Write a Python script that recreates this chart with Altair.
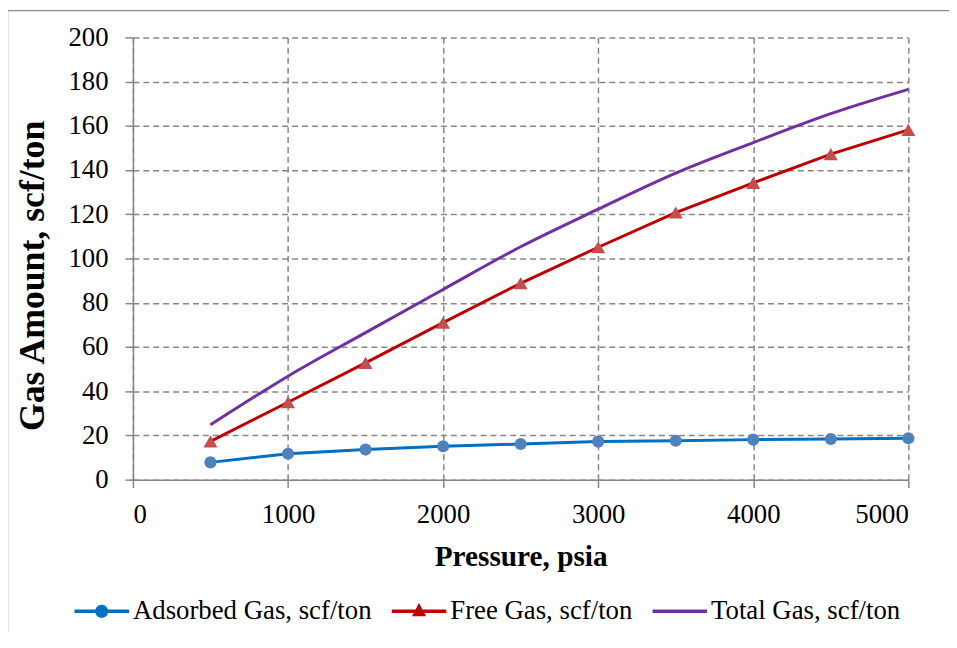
import altair as alt
import pandas as pd

pressure = [500, 1000, 1500, 2000, 2500, 3000, 3500, 4000, 4500, 5000]
adsorbed = [7.8, 11.7, 13.6, 15.1, 16.1, 17.2, 17.6, 18.1, 18.4, 18.7]
free_gas = [17.3, 35.0, 52.8, 71.0, 88.8, 105.1, 120.8, 134.2, 147.2, 158.2]
total_gas = [24.8, 46.8, 66.5, 86.0, 105.3, 122.3, 138.6, 152.4, 165.5, 176.5]

series_names = ["Adsorbed Gas, scf/ton", "Free Gas, scf/ton", "Total Gas, scf/ton"]
line_colors = ["#0070C0", "#C00000", "#7030A0"]
marker_colors = ["#4F81BD", "#C0504D"]
x_ticks = [0, 1000, 2000, 3000, 4000, 5000]
y_ticks = [0, 20, 40, 60, 80, 100, 120, 140, 160, 180, 200]

rows = []
for name, vals in zip(series_names, [adsorbed, free_gas, total_gas]):
    for p, v in zip(pressure, vals):
        rows.append({"pressure": p, "value": v, "series": name})
df = pd.DataFrame(rows)

FONT = "Liberation Serif"
W, H = 782, 446
GRID = "#868686"

common_axis = dict(
    labelColor="black", labelFont=FONT, labelFontSize=27,
    titleFont=FONT, titleFontWeight="bold", titleColor="black",
    gridColor=GRID, gridDash=[6, 4], gridWidth=1.5,
    domainColor=GRID, domainWidth=1.5,
    tickColor=GRID, tickWidth=1.5, tickSize=8,
)

x_enc = alt.X("pressure:Q", scale=alt.Scale(domain=[0, 5000], nice=False),
              axis=alt.Axis(values=x_ticks, title="Pressure, psia", format="d",
                            titleX=W / 2, titleY=87, titleBaseline="alphabetic",
                            titleFontSize=29.5, labelPadding=14, **common_axis))
y_enc = alt.Y("value:Q", scale=alt.Scale(domain=[0, 200], nice=False),
              axis=alt.Axis(values=y_ticks, title="Gas Amount, scf/ton",
                            titleX=-90, titleY=240, titleBaseline="alphabetic",
                            titleAlign="center", titleAngle=-90,
                            titleFontSize=36, labelPadding=17,
                            labelBaseline="middle", **common_axis))

color_scale = alt.Scale(domain=series_names, range=line_colors)

base = alt.Chart(df)

lines_lin = base.transform_filter(
    alt.datum.series != series_names[2]
).mark_line(strokeWidth=3).encode(
    x=x_enc, y=y_enc,
    color=alt.Color("series:N", scale=color_scale, legend=None),
    detail="series:N",
)
line_total = base.transform_filter(
    alt.datum.series == series_names[2]
).mark_line(strokeWidth=3, interpolate="monotone").encode(
    x=x_enc, y=y_enc,
    color=alt.Color("series:N", scale=color_scale, legend=None),
)
pts_ads = base.transform_filter(
    alt.datum.series == series_names[0]
).mark_point(filled=True, shape="circle", size=150, opacity=1,
             color=marker_colors[0]).encode(x=x_enc, y=y_enc)
pts_free = base.transform_filter(
    alt.datum.series == series_names[1]
).mark_point(filled=True, shape="triangle-up", size=200, opacity=1,
             color=marker_colors[1]).encode(x=x_enc, y=y_enc)

r_line = 0.064
r_c = 0.24
legend_paths = [
    f"M-1,-{r_line}H1V{r_line}H-1Z M{r_c},0 A{r_c},{r_c} 0 1,1 -{r_c},0 A{r_c},{r_c} 0 1,1 {r_c},0 Z",
    f"M-1,-{r_line}H1V{r_line}H-1Z M0,-0.3 L0.26,0.18 L-0.26,0.18 Z",
    f"M-1,-{r_line}H1V{r_line}H-1Z",
]

legend_spec = alt.Legend(orient="none", direction="horizontal",
                         legendX=-59, legendY=551, title=None,
                         symbolSize=3025, symbolOpacity=1,
                         symbolStrokeWidth=0,
                         labelFont=FONT, labelFontSize=27, labelLimit=500,
                         labelColor="black", labelOffset=4,
                         columnPadding=20)

legend_layer = alt.Chart(pd.DataFrame({"series": series_names})).mark_point(
    filled=True, opacity=0
).encode(
    color=alt.Color("series:N", scale=alt.Scale(domain=series_names, range=line_colors),
                    legend=legend_spec),
    shape=alt.Shape("series:N", scale=alt.Scale(domain=series_names, range=legend_paths),
                    legend=legend_spec),
)

border = alt.Chart(pd.DataFrame({"k": [0]})).mark_rule(color="#8c8c8c", strokeWidth=1.5).encode(
    x=alt.value(-126.5), y=alt.value(-28), y2=alt.value(640)
) + alt.Chart(pd.DataFrame({"k": [0]})).mark_rule(color="#8c8c8c", strokeWidth=1.5).encode(
    x=alt.value(-126.5), x2=alt.value(840), y=alt.value(-27)
)

chart = alt.layer(
    border, line_total, lines_lin, pts_ads, pts_free, legend_layer
).resolve_scale(
    color="independent", shape="independent"
).resolve_legend(
    color="independent", shape="independent"
).properties(
    width=W, height=H,
    autosize=alt.AutoSizeParams(type="none"),
    padding={"left": 126, "top": 27, "right": 41, "bottom": 150},
).configure(
    font=FONT
).configure_view(
    stroke=None
)

chart.save("out.html", embed_options={"renderer": "svg", "actions": False})
